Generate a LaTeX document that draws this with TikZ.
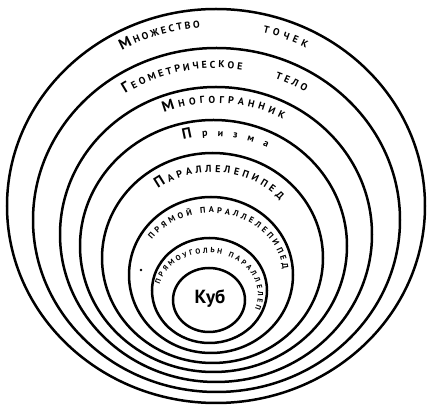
\documentclass[tikz,border=0pt]{standalone}
\usepackage{fontspec}
\setmainfont{PT Sans}
\usetikzlibrary{decorations.text}

\newcommand\capsz{\bfseries\fontsize{15}{15}\selectfont}
\newcommand\lowsz{\bfseries\fontsize{10}{10}\selectfont}
\newcommand\midsz{\bfseries\fontsize{8.4}{8.4}\selectfont}
\newcommand\inksz{\bfseries\fontsize{7.4}{7.4}\selectfont}

\begin{document}
\begin{tikzpicture}[
  x=1pt, y=1pt,
  ring/.style={draw=black, line width=2.5pt},
  arclabel/.style={decorate, decoration={text along path, text align=fit to path}},
  kub/.style={font=\bfseries\fontsize{19}{19}\selectfont, inner sep=0pt}
]
\useasboundingbox (0,0) rectangle (429,407);
% sets, outer to inner
\draw[ring] (216,201) ellipse [x radius=209, y radius=197];
\draw[ring] (216.5,187) ellipse [x radius=183.5, y radius=172];
\draw[ring] (216,172.5) ellipse [x radius=156, y radius=147.5];
\draw[ring] (213.5,161) ellipse [x radius=133.5, y radius=126];
\draw[ring] (212.5,149) ellipse [x radius=110.5, y radius=105];
\draw[ring] (211,132) ellipse [x radius=82, y radius=78];
\draw[ring] (209.5,116.5) ellipse [x radius=57.5, y radius=52.5];
\draw[ring] (209,107) ellipse [x radius=36, y radius=32];
% names along the rings
\path[arclabel, decoration={text={|\capsz|М|\lowsz|НОЖЕСТВО}}]
  (216,201) ++(119.5:191 and 179) arc[start angle=119.5, end angle=94.8, x radius=191, y radius=179];
\path[arclabel, decoration={text={|\lowsz|ТОЧЕК}}]
  (216,201) ++(75.8:191 and 179) arc[start angle=75.8, end angle=61.9, x radius=191, y radius=179];
\path[arclabel, decoration={text={|\capsz|Г|\lowsz|ЕОМЕТРИЧЕСКОЕ}}]
  (216.5,187) ++(124:163.5 and 152) arc[start angle=124, end angle=81, x radius=163.5, y radius=152];
\path[arclabel, decoration={text={|\lowsz|ТЕЛО}}]
  (216.5,187) ++(69:163.5 and 152) arc[start angle=69, end angle=57.2, x radius=163.5, y radius=152];
\path[arclabel, decoration={text={|\capsz|М|\lowsz|НОГОГРАННИК}}]
  (216,172.5) ++(111.8:140 and 131.5) arc[start angle=111.8, end angle=61.4, x radius=140, y radius=131.5];
\path[arclabel, decoration={text={|\capsz|П|\lowsz|ризма}}]
  (213.5,161) ++(105:117.5 and 110) arc[start angle=105, end angle=62.9, x radius=117.5, y radius=110];
\path[arclabel, decoration={text={|\capsz|П|\lowsz|АРАЛЛЕЛЕПИПЕД}}]
  (212.5,149) ++(126.6:91.5 and 86) arc[start angle=126.6, end angle=42.5, x radius=91.5, y radius=86];
\path[arclabel, decoration={text={|\midsz|ПРЯМОЙ ПАРАЛЛЕЛЕПИПЕД}}]
  (211,132) ++(145:72 and 62) arc[start angle=145, end angle=5, x radius=72, y radius=62];
\path[arclabel, decoration={text={|\inksz|ПРЯМОУГОЛЬН ПАРАЛЛЕЛЕП}}]
  (208,112) ++(165:50 and 42) arc[start angle=165, end angle=-20, x radius=50, y radius=42];
\node[kub] (kub) at (210,108) {Куб};
\fill (141,137) circle (1.3);
\end{tikzpicture}
\end{document}
